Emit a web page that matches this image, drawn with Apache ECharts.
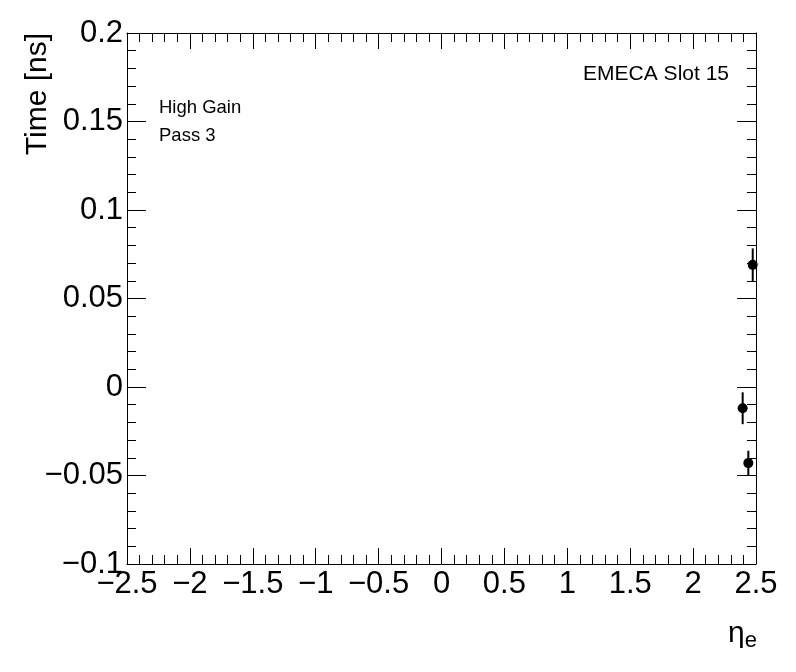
<!DOCTYPE html>
<html>
<head>
<meta charset="utf-8">
<script src="https://cdn.jsdelivr.net/npm/echarts@6/dist/echarts.min.js"></script>
<style>html,body{margin:0;padding:0;background:#fff;}#c{width:796px;height:672px;}</style>
</head>
<body>
<div id="c"></div>
<script>
const etaValues = [2.394, 2.439, 2.474];
const timeValues = [-0.012, -0.043, 0.069];
const timeErrors = [0.009, 0.007, 0.0093];
const xTicks = {min: -2.5, max: 2.5, interval: 0.5};
const yTicks = {min: -0.1, max: 0.2, interval: 0.05};
const labels = ['High Gain', 'Pass 3', 'EMECA Slot 15'];

function fmt(v) {
  let s = (Math.round(v * 1000) / 1000).toString();
  if (Math.abs(v) < 1e-9) s = '0';
  return s.replace('-', '\u2212');
}

const chart = echarts.init(document.getElementById('c'));
const FONT = 'Liberation Sans, Arial, Helvetica, sans-serif';
const pts = etaValues.map((x, i) => [x, timeValues[i], timeErrors[i]]);

function xAxisDef(pos, showLabel) {
  return {
    type: 'value', position: pos, min: xTicks.min, max: xTicks.max, interval: xTicks.interval,
    axisLine: {show: true, onZero: false, lineStyle: {color: '#000', width: 1}},
    axisTick: {show: true, inside: true, length: 16, lineStyle: {color: '#000'}},
    minorTick: {show: true, splitNumber: 5, length: 9, lineStyle: {color: '#000'}},
    splitLine: {show: false},
    axisLabel: {show: showLabel, formatter: fmt, color: '#000', fontSize: 31, fontFamily: FONT, margin: 5,
      showMinLabel: true, showMaxLabel: true}
  };
}
function yAxisDef(pos, showLabel) {
  return {
    type: 'value', position: pos, min: yTicks.min, max: yTicks.max, interval: yTicks.interval,
    axisLine: {show: true, onZero: false, lineStyle: {color: '#000', width: 1}},
    axisTick: {show: true, inside: true, length: 19, lineStyle: {color: '#000'}},
    minorTick: {show: true, splitNumber: 5, length: 9, lineStyle: {color: '#000'}},
    splitLine: {show: false},
    axisLabel: {show: showLabel, formatter: fmt, color: '#000', fontSize: 31, fontFamily: FONT, margin: 4,
      showMinLabel: true, showMaxLabel: true}
  };
}

chart.setOption({
  animation: false,
  backgroundColor: '#fff',
  grid: {left: 127, top: 33, width: 629, height: 531, containLabel: false},
  xAxis: [xAxisDef('bottom', true), xAxisDef('top', false)],
  yAxis: [yAxisDef('left', true), yAxisDef('right', false)],
  series: [
    {
      type: 'custom',
      xAxisIndex: 0, yAxisIndex: 0,
      data: pts,
      renderItem: function (params, api) {
        const x = api.value(0), y = api.value(1), e = api.value(2);
        const p = api.coord([x, y]);
        const lo = api.coord([x, y - e]);
        const hi = api.coord([x, y + e]);
        return {
          type: 'group',
          children: [
            {type: 'line', shape: {x1: p[0], y1: lo[1], x2: p[0], y2: hi[1]}, style: {stroke: '#000', lineWidth: 2}},
            {type: 'circle', shape: {cx: p[0], cy: p[1], r: 5}, style: {fill: '#000'}}
          ]
        };
      },
      clip: false
    }
  ],
  graphic: [
    {type: 'text', left: 159, top: 98, style: {text: labels[0], font: '18.5px ' + FONT, fill: '#000'}},
    {type: 'text', left: 159, top: 126, style: {text: labels[1], font: '18.5px ' + FONT, fill: '#000'}},
    {type: 'text', right: 796 - 729, top: 64, style: {text: labels[2], font: '21px ' + FONT, fill: '#000'}},
    {type: 'text', x: 38, y: 33, rotation: Math.PI / 2,
      style: {text: 'Time [ns]', font: '30px ' + FONT, fill: '#000', align: 'right', verticalAlign: 'middle'}},
    {type: 'text', x: 757, y: 634,
      style: {
        text: '{a|\u03b7}{b|e}', align: 'right', verticalAlign: 'middle',
        rich: {
          a: {fontSize: 30, fontFamily: FONT, color: '#000'},
          b: {fontSize: 22, fontFamily: FONT, color: '#000', verticalAlign: 'bottom', padding: [14, 0, 0, 0]}
        }
      }}
  ]
});
</script>
</body>
</html>
